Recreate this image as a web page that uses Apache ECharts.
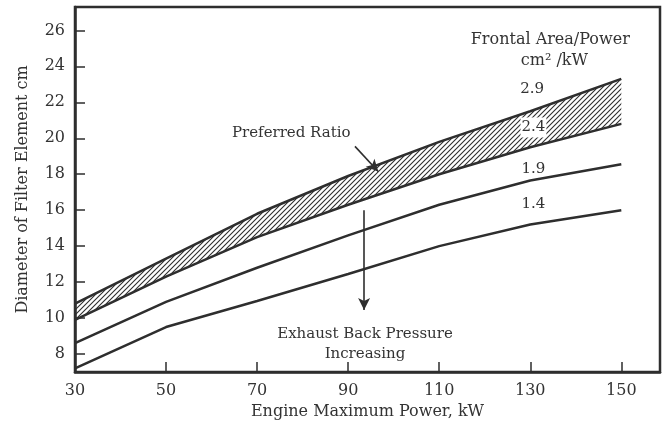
<!DOCTYPE html>
<html>
<head>
<meta charset="utf-8">
<script src="https://cdn.jsdelivr.net/npm/echarts@6/dist/echarts.min.js"></script>
<style>
  html, body { margin: 0; padding: 0; background: #fff; }
  #chart { width: 668px; height: 425px; }
</style>
</head>
<body>
<div id="chart"></div>
<script>
// engine power (kW) where the curves were read
var power = [30, 50, 70, 90, 110, 130, 150];
// filter diameter (cm) for each frontal area / power ratio (cm2/kW)
var ratio29 = [10.8, 13.3, 15.8, 17.9, 19.8, 21.5, 23.3];
var ratio24 = [9.9, 12.3, 14.5, 16.3, 18.0, 19.5, 20.8];
var ratio19 = [8.6, 10.9, 12.8, 14.6, 16.3, 17.65, 18.55];
var ratio14 = [7.2, 9.5, 10.95, 12.45, 14.0, 15.2, 16.0];

var xTicks = [30, 50, 70, 90, 110, 130, 150];
var yTicks = [8, 10, 12, 14, 16, 18, 20, 22, 24, 26];

var ink = '#2e2e2e';
var serif = '"DejaVu Serif", "Liberation Serif", serif';

// diagonal hatch for the preferred band
function hatch() {
    var c = document.createElement('canvas');
    var s = 5;
    c.width = s; c.height = s;
    var g = c.getContext('2d');
    g.strokeStyle = ink;
    g.lineWidth = 1.1;
    g.beginPath();
    g.moveTo(0, s); g.lineTo(s, 0);
    g.moveTo(-1, 1); g.lineTo(1, -1);
    g.moveTo(s - 1, s + 1); g.lineTo(s + 1, s - 1);
    g.stroke();
    return c;
}
var hatchFill = { image: hatch(), repeat: 'repeat' };

function pairs(ys) {
    return power.map(function (x, i) { return [x, ys[i]]; });
}

// band between the 2.4 and 2.9 curves, placed through the axes
function renderBand(params, api) {
    var pts = [];
    for (var i = 0; i < power.length; i++) pts.push(api.coord([power[i], ratio29[i]]));
    for (var j = power.length - 1; j >= 0; j--) pts.push(api.coord([power[j], ratio24[j]]));
    return {
        type: 'polygon',
        shape: { points: pts },
        style: { fill: hatchFill, stroke: null }
    };
}

function note(x, y, text, extra) {
    var label = {
        show: true, formatter: text, position: 'inside',
        color: '#333', fontFamily: serif, fontSize: 15, lineHeight: 20
    };
    for (var k in extra) label[k] = extra[k];
    return { coord: [x, y], symbolSize: 0, label: label };
}

var lineStyle = { color: ink, width: 2.5 };

var option = {
    animation: false,
    backgroundColor: '#fff',
    grid: {
        left: 75, right: 8, top: 7, bottom: 53,
        show: true, borderColor: ink, borderWidth: 2.5, backgroundColor: 'transparent'
    },
    xAxis: {
        type: 'value',
        min: 30, max: 158.5,
        name: 'Engine Maximum Power, kW',
        nameLocation: 'middle',
        nameGap: 29,
        nameTextStyle: { color: '#333', fontFamily: serif, fontSize: 16 },
        axisLine: { lineStyle: { color: ink, width: 2.5 } },
        axisTick: { inside: true, length: 10, customValues: xTicks, lineStyle: { color: ink, width: 1.5 } },
        axisLabel: { customValues: xTicks, margin: 11, color: '#333', fontFamily: serif, fontSize: 16 },
        splitLine: { show: false }
    },
    yAxis: {
        type: 'value',
        min: 7, max: 27.3,
        name: 'Diameter of Filter Element cm',
        nameLocation: 'middle',
        nameGap: 44,
        nameTextStyle: { color: '#333', fontFamily: serif, fontSize: 16 },
        axisLine: { lineStyle: { color: ink, width: 2.5 } },
        axisTick: { inside: true, length: 10, customValues: yTicks, lineStyle: { color: ink, width: 1.5 } },
        axisLabel: { customValues: yTicks, margin: 10, color: '#333', fontFamily: serif, fontSize: 16 },
        splitLine: { show: false }
    },
    series: [
        {
            name: 'Preferred Ratio', type: 'custom', silent: true,
            data: [[power[0], ratio24[0]]],
            renderItem: renderBand
        },
        {
            name: '2.9', type: 'line', data: pairs(ratio29),
            showSymbol: false, lineStyle: lineStyle
        },
        {
            name: '2.4', type: 'line', data: pairs(ratio24),
            showSymbol: false, lineStyle: lineStyle
        },
        {
            name: '1.9', type: 'line', data: pairs(ratio19),
            showSymbol: false, lineStyle: lineStyle
        },
        {
            name: '1.4', type: 'line', data: pairs(ratio14),
            showSymbol: false, lineStyle: lineStyle,
            markLine: {
                silent: true,
                symbol: ['none', 'arrow'],
                symbolSize: [9, 12],
                label: { show: false },
                lineStyle: { color: ink, width: 1.6, type: 'solid' },
                data: [
                    [{ coord: [93.5, 16.0] }, { coord: [93.5, 10.45] }],
                    [{ coord: [91.5, 19.55] }, { coord: [96.6, 18.15] }]
                ]
            },
            markPoint: {
                silent: true,
                symbol: 'circle',
                data: [
                    note(134.4, 25.45, 'Frontal Area/Power', { fontSize: 16 }),
                    note(135.3, 24.33, 'cm² /kW', { fontSize: 16 }),
                    note(130.4, 22.75, '2.9'),
                    note(130.7, 20.6, '2.4', { backgroundColor: '#fff', padding: [0, 1] }),
                    note(130.7, 18.3, '1.9'),
                    note(130.7, 16.35, '1.4'),
                    note(77.5, 20.3, 'Preferred Ratio'),
                    note(93.7, 8.54, 'Exhaust Back Pressure\nIncreasing')
                ]
            }
        }
    ]
};

var myChart = echarts.init(document.getElementById('chart'));
myChart.setOption(option);
</script>
</body>
</html>
